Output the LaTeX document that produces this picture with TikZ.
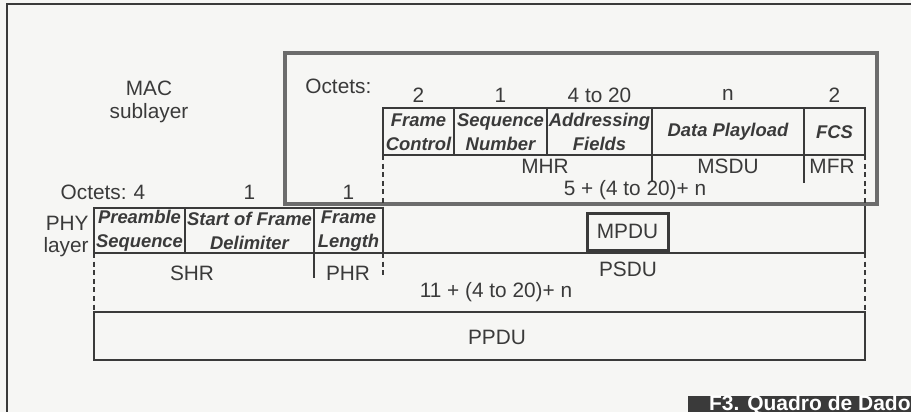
\documentclass[tikz,border=0pt]{standalone}
\usepackage{fontspec}
\setmainfont{Liberation Sans}
\usetikzlibrary{positioning}
\definecolor{inkgray}{RGB}{58,58,58}
\definecolor{macgray}{RGB}{108,108,108}
\definecolor{paper}{RGB}{246,246,244}
\tikzset{
  fieldtext/.style={font=\fontsize{9.2}{12}\selectfont\bfseries\itshape, align=center, inner sep=0pt},
  plaintext/.style={inner sep=0pt},
  solidrule/.style={draw=inkgray, line width=0.6pt},
  cutrule/.style={solidrule, dash pattern=on 2.5pt off 1.8pt},
}

\begin{document}
\begin{tikzpicture}[x=0.5pt, y=-0.5pt, font=\fontsize{10.4}{12.5}\selectfont, text=inkgray]
\fill[paper] (0,0) rectangle (911,412);
\useasboundingbox (0,0) rectangle (911,412);
\draw[solidrule] (7,420) -- (7,4) -- (920,4);

\draw[solidrule] (865,204) -- (865,253) -- (94,253);
\draw[solidrule] (94,312) rectangle (865,360);
\foreach \x/\w/\n/\lbl in {%
  94/91/4/{Preamble\\Sequence},
  185/129/1/{Start of Frame\\Delimiter},
  314/69/1/{Frame\\Length}} {
  \draw[solidrule] (\x,208) rectangle ++(\w,45);
  \node[fieldtext] (pf\x) at (\x+\w/2,231) {\lbl};
  \node[plaintext] (po\x) at (\x+\w/2,192) {\n};
}

\draw[line width=2pt, draw=macgray] (285,53) rectangle (877,204);
\foreach \x/\w/\n/\lbl in {%
  383/71/2/{Frame\\Control},
  454/93/1/{Sequence\\Number},
  547/105/4 to 20/{Addressing\\Fields},
  652/152/n/{Data Playload},
  804/61/2/{FCS}} {
  \draw[solidrule] (\x,108) rectangle ++(\w,47);
  \node[fieldtext] (mf\x) at (\x+\w/2,132) {\lbl};
  \node[plaintext] (mo\x) at (\x+\w/2,95) {\n};
}

\draw[cutrule] (383,155) -- (383,208);
\draw[solidrule] (652,155) -- (652,182);
\draw[solidrule] (804,155) -- (804,183);
\draw[cutrule] (865,155) -- (865,204);
\draw[cutrule] (865,253) -- (865,312);
\draw[cutrule] (94,253) -- (94,312);
\draw[solidrule] (314,253) -- (314,278);
\draw[cutrule] (383,253) -- (383,278);

\node[plaintext] (macname) at (149,88) {MAC};
\node[plaintext] (macsub) at (149,113) {sublayer};
\node[plaintext, anchor=west] (macoct) at (305,86) {Octets:};
\node[plaintext, anchor=east] (phyoct) at (127,192) {Octets:};
\node[plaintext, anchor=east] (phyname) at (89,223) {PHY};
\node[plaintext, anchor=east] (phylayer) at (89,247) {layer};

\node[plaintext] (mhr) at (545,166) {MHR};
\node[plaintext] (msdu) at (728,166) {MSDU};
\node[plaintext] (mfr) at (832,166) {MFR};
\node[plaintext] (maclen) at (635,190) {5 + (4 to 20)+ n};
\node[draw=inkgray, line width=1.5pt, minimum width=40.5pt, minimum height=18.5pt, inner sep=0pt] (mpdu) at (627.5,231.5) {MPDU};
\node[plaintext] (shr) at (192,273) {SHR};
\node[plaintext] (phr) at (348,273) {PHR};
\node[plaintext] (psdu) at (628,269) {PSDU};
\node[plaintext] (phylen) at (496,292) {11 + (4 to 20)+ n};
\node[plaintext] (ppdu) at (497,337) {PPDU};

\fill[inkgray] (688,396) rectangle (920,420);
\node[font=\fontsize{10.5}{12}\selectfont\bfseries, text=white, anchor=base east, inner sep=0pt] (figcap) at (911,410) {F3. Quadro de Dado};
\end{tikzpicture}
\end{document}
